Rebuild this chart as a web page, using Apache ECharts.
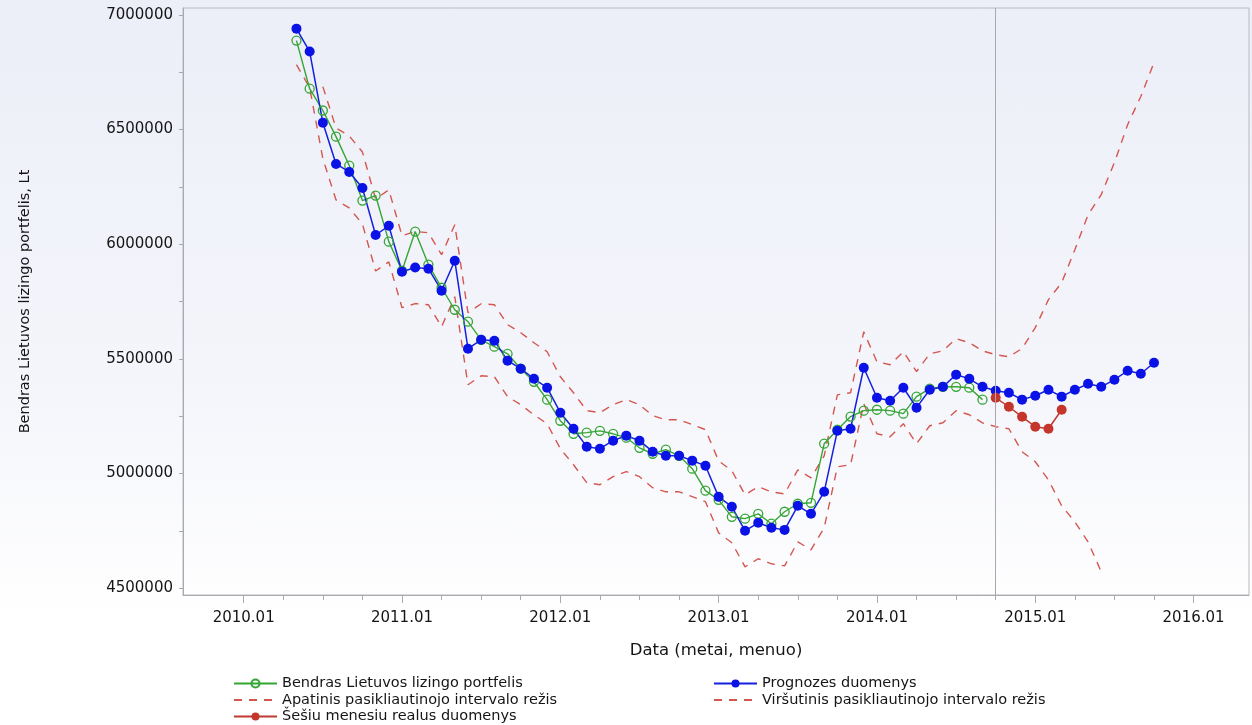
<!DOCTYPE html>
<html>
<head>
<meta charset="utf-8">
<title>Bendras Lietuvos lizingo portfelis</title>
<script src="https://cdn.jsdelivr.net/npm/echarts@6/dist/echarts.min.js"></script>
<style>
  html, body { margin: 0; padding: 0; background: #fff; }
  #LeasingChart {
    width: 1252px;
    height: 725px;
    background: linear-gradient(to bottom, #eceef8 0%, #f5f6fb 55%, #ffffff 86%);
  }
</style>
</head>
<body>
<div id="LeasingChart"></div>
<script>
/* x ašies žymės (metai.mėnuo) */
const tickLabels = ['2010.01', '2011.01', '2012.01', '2013.01', '2014.01', '2015.01', '2016.01']

/* y ašies žymės */
const valueLabels = [4500000, 5000000, 5500000, 6000000, 6500000, 7000000]

/* serijų pradžios mėnuo */
const bendrasStart = '2010.05'
const prognozesStart = '2010.05'
const apatinisStart = '2010.05'
const virsutinisStart = '2010.07'
const realusStart = '2014.10'
const forecastLine = '2014.10'

/* Bendras Lietuvos lizingo portfelis */
const bendras = [
  6888000, 6678000, 6583000, 6469000, 6343000, 6190000, 6212000, 6011000,
  5884000, 6055000, 5911000, 5810000, 5714000, 5662000, 5583000, 5553000,
  5522000, 5457000, 5400000, 5322000,
  5230000, 5173000, 5178000, 5186000, 5173000, 5156000, 5112000, 5086000,
  5104000, 5077000, 5021000, 4925000,
  4885000, 4811000, 4803000, 4824000, 4781000, 4833000, 4868000, 4872000,
  5130000, 5191000, 5248000, 5274000,
  5278000, 5274000, 5261000, 5335000, 5370000, 5378000, 5378000, 5374000,
  5322000
]

/* Prognozes duomenys */
const prognozes = [
  6940000, 6840000, 6530000, 6350000, 6315000, 6245000, 6040000, 6080000,
  5880000, 5898000, 5893000, 5797000, 5928000, 5544000, 5583000, 5579000,
  5492000, 5457000, 5413000, 5374000,
  5265000, 5195000, 5117000, 5108000, 5143000, 5165000, 5143000, 5095000,
  5077000, 5077000, 5056000, 5034000,
  4898000, 4855000, 4750000, 4785000, 4763000, 4754000, 4859000, 4824000,
  4920000, 5186000, 5195000, 5461000,
  5330000, 5317000, 5374000, 5287000, 5365000, 5378000, 5431000, 5413000,
  5378000, 5361000, 5352000, 5322000,
  5339000, 5365000, 5335000, 5365000, 5391000, 5378000, 5409000, 5448000,
  5435000, 5483000
]

/* Apatinis pasikliautinojo intervalo režis */
const apatinis = [
  6783000, 6683000, 6373000, 6193000, 6158000, 6088000, 5883000, 5923000,
  5723000, 5741000, 5736000, 5640000, 5771000, 5387000, 5426000, 5422000,
  5335000, 5300000, 5256000, 5217000,
  5108000, 5038000, 4960000, 4951000, 4986000, 5008000, 4986000, 4938000,
  4920000, 4920000, 4899000, 4877000,
  4741000, 4698000, 4593000, 4628000, 4606000, 4597000, 4702000, 4667000,
  4763000, 5029000, 5038000, 5304000,
  5173000, 5160000, 5217000, 5130000, 5208000, 5221000, 5274000, 5256000,
  5221000, 5204000, 5195000, 5095000,
  5051000, 4972000, 4859000, 4789000, 4702000, 4571000
]

/* Viršutinis pasikliautinojo intervalo režis */
const virsutinis = [
  6687000, 6507000, 6472000, 6402000, 6197000, 6237000, 6037000,
  6055000, 6050000, 5954000, 6085000, 5701000, 5740000, 5736000, 5649000,
  5614000, 5570000, 5531000, 5422000,
  5352000, 5274000, 5265000, 5300000, 5322000, 5300000, 5252000, 5234000,
  5234000, 5213000, 5191000, 5055000,
  5012000, 4907000, 4942000, 4920000, 4911000, 5016000, 4981000, 5077000,
  5343000, 5352000, 5618000, 5487000,
  5474000, 5531000, 5444000, 5522000, 5535000, 5588000, 5570000, 5535000,
  5518000, 5509000, 5545000, 5636000,
  5758000, 5832000, 5976000, 6128000, 6216000, 6356000, 6521000, 6644000,
  6792000
]

/* Šešiu menesiu realus duomenys */
const realus = [5330000, 5291000, 5247000, 5204000, 5195000, 5278000]

const FONT = 'DejaVu Sans, Liberation Sans, sans-serif'
const AXIS_COLOR = '#a9a9b0'
const TEXT_COLOR = '#151515'

// 'YYYY.MM' -> mėnesio numeris nuo 2010.01
function monthIndex(label) {
  const [y, m] = label.split('.').map(Number)
  return (y - 2010) * 12 + (m - 1)
}

function toPoints(start, values) {
  const first = monthIndex(start)
  return values.map((v, i) => [first + i, v])
}

const yearTicks = tickLabels.map(monthIndex)
const quarterTicks = []
for (let m = yearTicks[0]; m <= yearTicks[yearTicks.length - 1]; m += 3) {
  quarterTicks.push(m)
}
const valueTicks = []
for (let v = valueLabels[0]; v <= valueLabels[valueLabels.length - 1]; v += 250000) {
  valueTicks.push(v)
}

// brūkšninių linijų legendoje be taško
const dashedLegendItem = name => ({ name, itemStyle: { opacity: 0 } })

/* legendos bendri nustatymai */
const legendBase = {
  top: 676,
  padding: 0,
  orient: 'vertical',
  itemWidth: 43,
  itemHeight: 10,
  itemGap: 1.5,
  textStyle: { fontFamily: FONT, fontSize: 14.5, color: TEXT_COLOR }
}

const myChart = echarts.init(document.getElementById('LeasingChart'))

myChart.setOption({
  animation: false,
  backgroundColor: 'transparent',
  /* braižymo sritis */
  grid: {
    left: 183,
    right: 3,
    top: 8,
    bottom: 130,
    show: true,
    borderColor: '#b8b8c0',
    borderWidth: 1,
    backgroundColor: 'transparent'
  },
  /* legenda: du stulpeliai */
  legend: [
    Object.assign({}, legendBase, {
      left: 233,
      data: [
        'Bendras Lietuvos lizingo portfelis',
        dashedLegendItem('Apatinis pasikliautinojo intervalo režis'),
        'Šešiu menesiu realus duomenys'
      ]
    }),
    Object.assign({}, legendBase, {
      left: 713,
      data: [
        'Prognozes duomenys',
        dashedLegendItem('Viršutinis pasikliautinojo intervalo režis')
      ]
    })
  ],
  xAxis: [
    {
      type: 'value',
      min: -4.6,
      max: 76.2,
      name: 'Data (metai, menuo)',
      nameLocation: 'middle',
      nameGap: 47,
      nameTextStyle: { fontFamily: FONT, fontSize: 16.5, color: TEXT_COLOR },
      axisLine: { onZero: false, lineStyle: { color: AXIS_COLOR } },
      axisTick: {
        customValues: yearTicks,
        length: 8,
        lineStyle: { color: AXIS_COLOR }
      },
      axisLabel: {
        customValues: yearTicks,
        formatter: v => tickLabels[Math.round(v / 12)],
        fontFamily: FONT,
        fontSize: 15,
        color: TEXT_COLOR,
        margin: 16
      },
      splitLine: { show: false }
    },
    {
      // ketvirčių žymės
      type: 'value',
      position: 'bottom',
      min: -4.6,
      max: 76.2,
      axisLine: { show: false, onZero: false },
      axisTick: {
        customValues: quarterTicks,
        length: 5,
        lineStyle: { color: AXIS_COLOR }
      },
      axisLabel: { show: false },
      splitLine: { show: false }
    }
  ],
  yAxis: {
    type: 'value',
    min: 4470000,
    max: 7030000,
    name: 'Bendras Lietuvos lizingo portfelis, Lt',
    nameLocation: 'middle',
    nameGap: 150,
    nameTextStyle: { fontFamily: FONT, fontSize: 14.5, color: TEXT_COLOR },
    axisLine: { show: true, onZero: false, lineStyle: { color: AXIS_COLOR } },
    axisTick: {
      show: true,
      customValues: valueTicks,
      length: 4,
      lineStyle: { color: AXIS_COLOR }
    },
    axisLabel: {
      customValues: valueLabels,
      formatter: v => String(v),
      fontFamily: FONT,
      fontSize: 15,
      color: TEXT_COLOR,
      margin: 10
    },
    splitLine: { show: false }
  },
  series: [
    {
      name: 'Viršutinis pasikliautinojo intervalo režis',
      type: 'line',
      symbol: 'none',
      lineStyle: { color: '#d4574f', width: 1.4, type: [8, 7] },
      itemStyle: { color: '#d4574f' },
      data: toPoints(virsutinisStart, virsutinis)
    },
    {
      name: 'Apatinis pasikliautinojo intervalo režis',
      type: 'line',
      symbol: 'none',
      lineStyle: { color: '#d4574f', width: 1.4, type: [8, 7] },
      itemStyle: { color: '#d4574f' },
      data: toPoints(apatinisStart, apatinis)
    },
    {
      name: 'Bendras Lietuvos lizingo portfelis',
      type: 'line',
      symbol: 'circle',
      symbolSize: 9,
      lineStyle: { color: '#35a535', width: 1.4 },
      itemStyle: { color: 'rgba(0,0,0,0)', borderColor: '#35a535', borderWidth: 1.3 },
      data: toPoints(bendrasStart, bendras)
    },
    {
      name: 'Prognozes duomenys',
      type: 'line',
      symbol: 'circle',
      symbolSize: 10,
      lineStyle: { color: '#1420e0', width: 1.5 },
      itemStyle: { color: '#0a12e6' },
      data: toPoints(prognozesStart, prognozes),
      /* prognozės pradžia */
      markLine: {
        silent: true,
        symbol: 'none',
        label: { show: false },
        lineStyle: { color: '#a8a8ae', width: 1, type: 'solid' },
        data: [{ xAxis: monthIndex(forecastLine) }]
      }
    },
    {
      name: 'Šešiu menesiu realus duomenys',
      type: 'line',
      symbol: 'circle',
      symbolSize: 10,
      lineStyle: { color: '#c0392f', width: 1.5 },
      itemStyle: { color: '#c4362c' },
      data: toPoints(realusStart, realus)
    }
  ]
})
</script>
</body>
</html>
